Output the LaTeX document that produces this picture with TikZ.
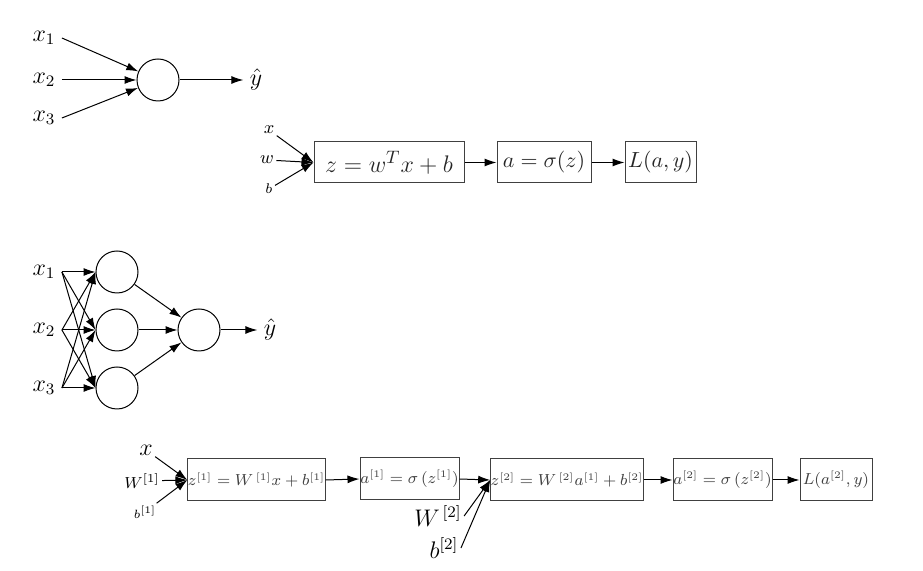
\documentclass[tikz,border=0pt]{standalone}
\usepackage{amsmath}
\usetikzlibrary{arrows.meta}

\begin{document}
\begin{tikzpicture}[x=0.5pt, y=-0.5pt, line width=0.5pt,
    >={Latex[length=6pt,width=4pt]},
    neuron/.style={draw, circle, minimum size=21pt, inner sep=0pt},
    lbl/.style={inner sep=3pt, font=\fontsize{12}{14}\selectfont},
    box/.style={draw, black!75, text=black!85, minimum height=20.5pt,
                inner sep=0pt, font=\fontsize{11}{13}\selectfont},
    sbox/.style={draw, black!75, text=black!75, minimum height=21pt,
                 inner sep=0pt, font=\fontsize{7.8}{9}\selectfont}
  ]
    \useasboundingbox (0,0) rectangle (923,571);

    % single neuron
    \node[neuron] (n) at (158,80) {};
    \node[lbl] (x1) at (44,38) {$x_1$};
    \node[lbl] (x2) at (44,80) {$x_2$};
    \node[lbl] (x3) at (44,118) {$x_3$};
    \node[lbl] (yh) at (256,80) {$\hat{y}$};
    \foreach \i in {1,2,3}
      \draw[->] (x\i.east) -- (n);
    \draw[->] (n) -- (yh);

    % logistic regression graph
    \node[box, minimum width=75pt, font=\fontsize{12.5}{15}\selectfont]
          (b1) at (389,162.5) {$z = w^T x + b$};
    \node[box, minimum width=47pt] (b2) at (544,162.5) {$a = \sigma(z)$};
    \node[box, minimum width=35.5pt] (b3) at (660.5,162.5) {$L(a, y)$};
    \node[lbl, inner sep=1pt, font=\fontsize{9.5}{10}\selectfont] (lx) at (269,130) {$x$};
    \node[lbl, inner sep=1pt, font=\fontsize{9.5}{10}\selectfont] (lw) at (267,160) {$w$};
    \node[lbl, inner sep=1pt, font=\fontsize{7}{8}\selectfont] (lb) at (269,189) {$b$};
    \foreach \v in {lx,lw,lb}
      \draw[->] (\v) -- (b1.west);
    \draw[->] (b1.east) -- (b2.west);
    \draw[->] (b2.east) -- (b3.west);

    % two layer network
    \node[lbl] (p1) at (44,272) {$x_1$};
    \node[lbl] (p2) at (44,330) {$x_2$};
    \node[lbl] (p3) at (44,388) {$x_3$};
    \foreach \j/\y in {1/272,2/330,3/388}
      \node[neuron] (h\j) at (117,\y) {};
    \node[neuron] (o) at (199,330) {};
    \node[lbl] (yo) at (270,330) {$\hat{y}$};
    \foreach \i in {1,2,3}
      \foreach \j in {1,2,3}
        \draw[->] (p\i.east) -- (h\j.west);
    \foreach \j in {1,2,3}
      \draw[->] (h\j) -- (o);
    \draw[->] (o) -- (yo);

    % two layer computation graph
    \node[sbox, minimum width=65.5pt] (c1) at (256.5,480) {$z^{[1]} = W^{\,[1]}x + b^{[1]}$};
    \node[sbox, minimum width=49.5pt] (c2) at (409.5,479) {$a^{[1]} = \sigma\,(z^{[1]})$};
    \node[sbox, minimum width=75pt] (c3) at (567,480) {$z^{[2]} = W^{\,[2]}a^{[1]} + b^{[2]}$};
    \node[sbox, minimum width=49.5pt] (c4) at (722.5,480) {$a^{[2]} = \sigma\,(z^{[2]})$};
    \node[sbox, minimum width=36pt] (c5) at (836,480) {$L(a^{[2]}, y)$};
    \node[lbl, inner sep=1pt, font=\fontsize{12.5}{14}\selectfont] (qx) at (146,450) {$x$};
    \node[lbl, inner sep=1pt, font=\fontsize{8.5}{10}\selectfont] (qw) at (142,481) {$W^{[1]}$};
    \node[lbl, inner sep=1pt, font=\fontsize{6}{7}\selectfont] (qb) at (145,512) {$b^{[1]}$};
    \node[lbl, inner sep=1pt, font=\fontsize{12}{14}\selectfont] (qw2) at (438,516) {$W^{\,[2]}$};
    \node[lbl, inner sep=1pt, font=\fontsize{12}{14}\selectfont] (qb2) at (444,548) {$b^{[2]}$};
    \foreach \v in {qx,qw,qb}
      \draw[->] (\v) -- (c1.west);
    \draw[->] (c1.east) -- (c2.west);
    \draw[->] (c2.east) -- (c3.west);
    \draw[->] (qw2.east) -- (c3.west);
    \draw[->] (qb2.east) -- (c3.west);
    \draw[->] (c3.east) -- (c4.west);
    \draw[->] (c4.east) -- (c5.west);
  \end{tikzpicture}
\end{document}
